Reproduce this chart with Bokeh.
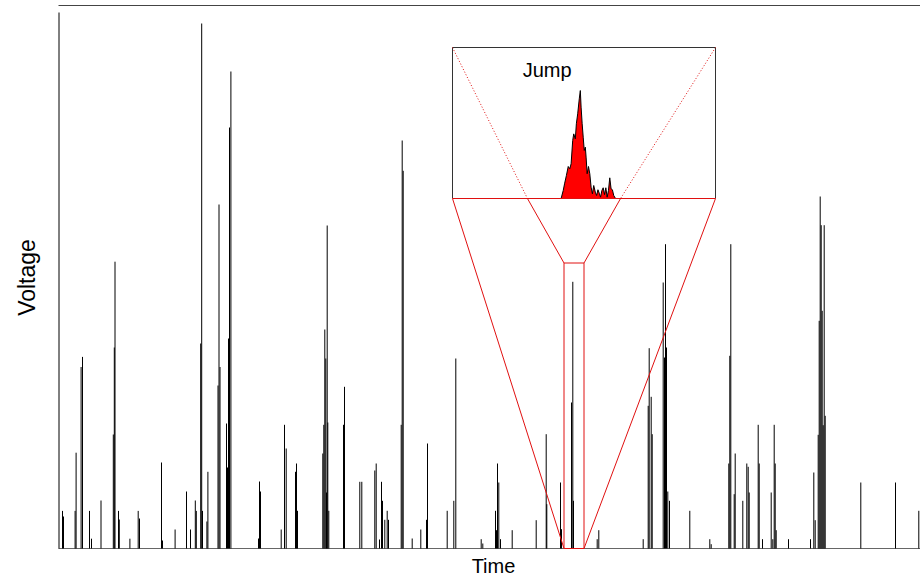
import math
from bokeh.plotting import figure
from bokeh.models import Range1d
from bokeh.embed import file_html
from bokeh.resources import INLINE
from bokeh.core.properties import value

# spike train: time (samples) and peak voltage (arbitrary units)
spike_t = [0.5, 4, 5, 16.6, 17.6, 22.6, 24, 31, 33, 42.5, 54.8, 55.8, 56.5, 60, 60.8, 71.4,
           79.7, 81, 103, 104, 116.6, 128, 132, 136.8, 137.8, 142.2, 143.2, 144, 148.4, 149.4,
           159.5, 160.5, 161.5, 168, 169, 170, 171, 172.4, 200, 201, 202,
           222.7, 226, 227.7, 237, 238, 239, 264.3, 265.3, 266.3, 267.3, 268, 268.7, 269.3, 270.3,
           285, 286, 301.3, 303.3, 316.3, 317.7, 321, 323, 324, 326.3, 328.7, 330,
           342.7, 343.7, 344.7, 353.7, 362.3, 368, 369, 388.7, 395.3, 397.3,
           422.7, 424.3, 437, 438, 439, 440.3, 442, 453.7, 477.7, 487.7, 488.3, 502, 503,
           513, 514.3, 515, 538.7, 540.3, 584.7, 589.7, 590.7, 592.7, 593.7,
           604.7, 606, 607, 608, 609.3, 611, 631.3,
           651.3, 652.7, 670.3, 671.3, 672.3, 675.7, 676.7, 684.3, 688.3, 689.7, 690.7,
           699.7, 700.7, 704, 712.7, 714.3, 715.7, 716.7, 717.7, 730, 752, 755.3, 756.7,
           759.7, 760.7, 761.7, 762.7, 763.7, 764.7, 765.7, 766.7, 802.3, 837, 860.3]
spike_v = [536, 37.6, 32, 37.6, 95.8, 181.5, 191.6, 37.6, 9.8, 48, 114, 201, 286.8, 37.6, 29, 9.8,
           37.6, 30, 86, 8, 19, 57, 19, 48, 37.6, 205, 525, 37.6, 27, 76.7,
           163, 344, 181.5, 125, 81, 210, 421, 477, 10, 67, 57,
           19, 123.7, 100, 76.7, 85, 37.7, 95, 123.7, 219, 190, 56, 323, 126, 37.7,
           123.7, 161.7, 66.7, 66.7, 78, 85, 9, 66.7, 47.7, 28.7, 37.7, 28.7,
           123.7, 408, 377.7, 10, 19, 28.7, 105, 37.7, 47.7, 190,
           9.3, 5, 37.7, 18.3, 85, 66, 9.3, 18.3, 28.3, 114.3, 44.3, 66, 19.3,
           146, 266.7, 47.7, 9.3, 18.3, 9.3, 142.7, 200.3, 151.7, 114.3,
           266, 191, 304.3, 201, 57, 47.7, 37.7,
           9.3, 4.3, 85, 192.7, 304.3, 54.3, 95, 47.7, 85, 81.7, 56,
           123.7, 85, 9.3, 56, 9.3, 123.7, 85, 18.3, 9.3, 9.3, 76, 28.3,
           113.7, 227.7, 352, 323.3, 237.7, 123.3, 323.3, 132.7, 66, 66, 37.7]

# zoomed "Jump" trace, inset-local units (0-100 across / up the inset)
jump_t = [41.3, 42.1, 42.6, 43.3, 44.0, 44.6, 45.1, 45.7, 46.1, 46.7, 47.1, 47.6, 48.2, 48.6,
          48.9, 49.3, 49.7, 50.1, 50.5, 50.8, 51.2, 51.7, 52.2, 52.7, 53.2, 53.7, 54.3, 54.8,
          55.3, 55.8, 56.3, 56.8, 57.3, 57.8, 58.3, 58.8, 59.3, 59.8, 60.3, 60.8, 61.3, 62.0]
jump_v = [0, 5.3, 9.7, 15.2, 21.2, 19.7, 23.0, 38.4, 42.8, 39.5, 49.5, 56.1, 66.0, 71.5,
          60.5, 49.5, 40.6, 31.8, 34.0, 27.4, 16.4, 21.2, 16.4, 7.5, 3.1, 8.6, 4.2, 2.0,
          5.8, 3.5, 0.9, 5.3, 7.1, 2.6, 7.1, 0.9, 5.3, 13.7, 6.4, 5.8, 2.0, 0]

# time span of the record and top edge of the plot box
t_start, t_end, v_top = 0, 862, 543
# zoomed window in the main trace
zoom_t0, zoom_t1, zoom_v1 = 505.5, 525.5, 285.5
# inset placement (main-plot units) and funnel throat (inset-local)
inset_t0, inset_t1, inset_v0, inset_v1 = 394, 657, 350, 501
throat_u = [28.5, 63.9]
# axis-title positions (main-plot units, outside the record)
time_label_t, time_label_v = 435, -17
volt_label_t, volt_label_v = -32, 271

RED = "#e01010"

p = figure(width=920, height=576, x_range=Range1d(-58, 862), y_range=Range1d(-28, 544),
           output_backend="svg", toolbar_location=None,
           min_border_left=0, min_border_right=0, min_border_top=4, min_border_bottom=0)
p.grid.visible = False
p.axis.visible = False
p.outline_line_color = None
p.background_fill_color = "white"
p.border_fill_color = "white"

# top edge and resting baseline
p.segment(x0=[t_start], y0=[v_top], x1=[t_end], y1=[v_top], line_color="#444444", line_width=1)
p.segment(x0=[t_start], y0=[0], x1=[t_end], y1=[0], line_color="#666666", line_width=1)

p.segment(x0=spike_t, y0=[0] * len(spike_t), x1=spike_t, y1=spike_v,
          line_color="black", line_width=1)

p.text(x=[time_label_t], y=[time_label_v], text=["Time"],
       text_font=value("Liberation Sans"), text_font_size="20px",
       text_align="center", text_baseline="middle", text_color="black")
p.text(x=[volt_label_t], y=[volt_label_v], text=["Voltage"], angle=math.pi / 2,
       text_font=value("Liberation Sans"), text_font_size="23px",
       text_align="center", text_baseline="middle", text_color="black")

# inset
iw = inset_t1 - inset_t0
ih = inset_v1 - inset_v0
p.quad(left=[inset_t0], right=[inset_t1], bottom=[inset_v0], top=[inset_v1],
       fill_color="white", line_color=None)
sx = [inset_t0 + u / 100 * iw for u in jump_t]
sy = [inset_v0 + w / 100 * ih for w in jump_v]
p.patch(sx, sy, fill_color="#ff0000", line_color="black", line_width=1)
p.line([inset_t0, inset_t0, inset_t1, inset_t1], [inset_v0, inset_v1, inset_v1, inset_v0],
       line_color="#333333", line_width=1)
p.line([inset_t0, inset_t1], [inset_v0, inset_v0], line_color=RED, line_width=1)

th0 = inset_t0 + throat_u[0] / 100 * iw
th1 = inset_t0 + throat_u[1] / 100 * iw
p.segment(x0=[inset_t0, inset_t1], y0=[inset_v1, inset_v1], x1=[th0, th1], y1=[inset_v0, inset_v0],
          line_color=RED, line_width=1, line_dash="1 2")
p.segment(x0=[th0, th1], y0=[inset_v0, inset_v0], x1=[zoom_t0, zoom_t1], y1=[zoom_v1, zoom_v1],
          line_color=RED, line_width=1)
p.segment(x0=[inset_t0, inset_t1], y0=[inset_v0, inset_v0], x1=[zoom_t0, zoom_t1], y1=[0, 0],
          line_color=RED, line_width=1)
p.line([zoom_t0, zoom_t0, zoom_t1, zoom_t1, zoom_t0], [0, zoom_v1, zoom_v1, 0, 0],
       line_color=RED, line_width=1)

p.text(x=[inset_t0 + 36 / 100 * iw], y=[inset_v0 + 85 / 100 * ih], text=["Jump"],
       text_font=value("Liberation Sans"), text_font_size="20px",
       text_align="center", text_baseline="middle", text_color="black")

open("out.html", "w").write(file_html(p, INLINE))
